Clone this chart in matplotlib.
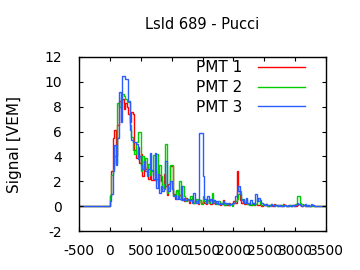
import matplotlib
matplotlib.use("Agg")
import matplotlib.pyplot as plt
import numpy as np

plt.rcParams["font.family"] = ["DejaVu Sans"]
plt.rcParams["axes.unicode_minus"] = False

# trace binning (ns)
bin_width = 25
t_start = 0
x_range = (-500, 3500)

pmt1 = [
    0.8, 2.8, 5.5, 6.1, 4.0, 6.5, 8.5, 8.3, 8.6, 7.8,
    8.3, 8.0, 7.4, 6.8, 7.6, 7.4, 4.5, 3.9, 4.8, 3.5,
    4.2, 2.4, 3.6, 3.0, 3.2, 2.2, 2.8, 2.1, 2.1, 2.9,
    2.2, 1.8, 2.5, 2.0, 1.5, 2.6, 1.6, 0.9, 1.8, 3.2,
    3.2, 1.0, 0.6, 1.2, 0.9, 0.9, 0.8, 0.6, 0.4, 0.7,
    0.5, 0.3, 0.6, 0.4, 0.3, 0.6, 0.4, 0.2, 0.5, 0.3,
    0.4, 0.3, 0.2, 0.5, 0.3, 0.2, 0.6, 0.3, 0.2, 0.3,
    0.2, 0.1, 0.2, 0.5, 0.1, 0.2, 0.1, 0.3, 0.2, 0.1,
    0.4, 0.3, 2.8, 1.2, 0.5, 0.3, 0.4, 0.2, 0.3, 0.2,
    0.3, 0.1, 0.2, 0.1, 0.2, 0.1, 0.1, 0.2, 0.0, 0.1,
    0.1, 0.2, 0.0, 0.1, 0.1, 0.0, 0.2, 0.1, 0.0, 0.1,
    0.1, 0.0, 0.2, 0.1, 0.0, 0.0, 0.1, 0.0, 0.1, 0.0,
    0.0, 0.1, 0.2, 0.1, 0.0, 0.1, 0.0, 0.0, 0.1, 0.0,
    0.0, 0.1, 0.0, 0.0, 0.0, 0.0,
]
pmt2 = [
    0.9, 2.5, 3.0, 4.0, 3.5, 8.3, 8.0, 8.8, 9.0, 8.9,
    8.6, 8.4, 8.4, 6.5, 5.6, 4.5, 4.2, 5.2, 6.0, 6.0,
    2.8, 4.0, 3.5, 3.9, 2.8, 3.4, 2.5, 2.8, 4.1, 2.5,
    4.2, 2.0, 3.3, 2.4, 1.5, 1.8, 5.0, 1.1, 1.5, 3.3,
    3.3, 0.9, 0.8, 1.3, 0.7, 2.0, 0.5, 1.6, 0.8, 0.4,
    0.6, 0.5, 0.8, 0.5, 0.3, 0.4, 0.6, 0.3, 0.5, 0.2,
    0.8, 0.4, 0.3, 0.5, 0.3, 0.5, 1.1, 0.4, 0.3, 0.2,
    0.4, 0.2, 0.3, 0.2, 0.1, 0.3, 0.2, 0.1, 0.2, 0.0,
    0.3, 0.4, 0.6, 1.0, 1.2, 0.6, 0.5, 0.3, 0.6, 0.2,
    0.1, 0.2, 0.1, 0.3, 0.2, 0.6, 0.4, 0.2, 0.1, 0.1,
    0.2, 0.1, 0.0, 0.1, 0.2, 0.1, 0.0, 0.1, 0.0, 0.1,
    0.0, 0.1, 0.0, 0.1, 0.0, 0.0, 0.1, 0.0, 0.0, 0.1,
    0.2, 0.8, 0.8, 0.3, 0.2, 0.1, 0.0, 0.1, 0.0, 0.0,
    0.1, 0.0, 0.0, 0.0, 0.0, 0.0,
]
pmt3 = [
    0.4, 1.0, 2.8, 4.9, 3.3, 5.5, 9.2, 6.8, 10.5, 10.5,
    10.2, 10.2, 8.5, 6.1, 5.3, 5.2, 5.2, 5.0, 3.8, 4.0,
    3.3, 3.0, 3.6, 2.8, 2.4, 3.0, 4.3, 2.9, 2.2, 4.3,
    1.5, 2.6, 1.1, 1.6, 1.2, 1.4, 3.6, 1.6, 1.2, 2.0,
    1.4, 0.8, 0.9, 0.6, 0.8, 0.6, 1.6, 0.5, 0.7, 0.5,
    0.6, 0.4, 0.5, 0.3, 1.1, 0.4, 0.3, 0.5, 5.9, 5.9,
    2.4, 0.6, 0.3, 0.8, 0.4, 0.6, 0.3, 0.5, 0.3, 0.4,
    0.2, 0.3, 0.2, 0.4, 0.3, 0.2, 0.3, 0.1, 0.2, 0.3,
    0.3, 0.8, 1.2, 1.6, 1.0, 0.5, 0.6, 0.3, 0.7, 0.3,
    0.2, 0.5, 0.3, 0.2, 1.0, 0.4, 0.7, 0.5, 0.3, 0.2,
    0.1, 0.2, 0.1, 0.0, 0.2, 0.1, 0.0, 0.1, 0.1, 0.0,
    0.1, 0.0, 0.0, 0.1, 0.0, 0.1, 0.0, 0.0, 0.1, 0.0,
    0.1, 0.3, 0.2, 0.1, 0.0, 0.1, 0.2, 0.0, 0.1, 0.0,
    0.2, 0.1, 0.0, 0.0, 0.0, 0.0,
]
labels = ["PMT 1", "PMT 2", "PMT 3"]
colors = ["#ff0000", "#00cc00", "#2a5cff"]

fig = plt.figure(figsize=(3.6, 2.7), dpi=100)
ax = fig.add_axes([0.219, 0.144, 0.687, 0.645])

for vals, lab, col in zip([pmt1, pmt2, pmt3], labels, colors):
    n = len(vals)
    inner = t_start + bin_width * np.arange(n + 1)
    edges = np.concatenate([[x_range[0]], inner, [x_range[1]]])
    v = np.concatenate([[0.0], vals, [0.0]])
    ax.stairs(v, edges, baseline=None, color=col, lw=1.0, label=lab)

ax.set_xlim(*x_range)
ax.set_ylim(-2, 12)
ax.set_xticks(np.arange(-500, 3501, 500))
ax.set_yticks(np.arange(-2, 13, 2))
ax.tick_params(direction="in", top=True, right=True, length=3, width=0.8,
               labelsize=10, colors="black")
ax.tick_params(axis="x", pad=9)
ax.tick_params(axis="y", pad=12)
for s in ax.spines.values():
    s.set_linewidth(1.0)

ax.set_title("LsId 689 - Pucci", fontsize=10.5, pad=20)
ax.set_ylabel("Signal [VEM]", fontsize=11, labelpad=16)

ax.legend(loc="upper right", frameon=False, markerfirst=False, fontsize=11,
          handlelength=3.1, handletextpad=1.0, labelspacing=0.3,
          borderpad=0, borderaxespad=0, bbox_to_anchor=(0.915, 0.98))

fig.savefig("out.png", dpi=100)
